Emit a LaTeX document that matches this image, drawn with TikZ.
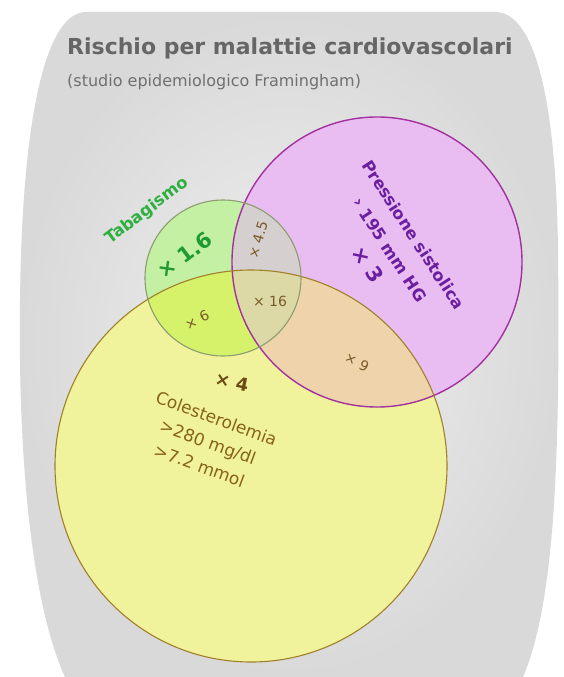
\documentclass[tikz,border=0pt]{standalone}
\usepackage{fontspec}
\setmainfont{DejaVu Sans}
\definecolor{bginner}{HTML}{F0F0F0}
\definecolor{bgouter}{HTML}{D9D9D9}
\definecolor{purF}{HTML}{E9BDF2}
\definecolor{purS}{HTML}{A2329E}
\definecolor{yelF}{HTML}{F0F39C}
\definecolor{yelS}{HTML}{A08028}
\definecolor{grnF}{HTML}{C4F0A4}
\definecolor{grnS}{HTML}{8C9C70}
\definecolor{GYF}{HTML}{D6F26A}
\definecolor{GPF}{HTML}{D6CFCF}
\definecolor{GPYF}{HTML}{DDD9A6}
\definecolor{PYF}{HTML}{EFD3AA}
\definecolor{titlegray}{HTML}{666666}
\definecolor{subgray}{HTML}{707070}
\definecolor{tabgreen}{HTML}{2DB040}
\definecolor{numgreen}{HTML}{1E9A2E}
\definecolor{brown}{HTML}{7A5A28}
\definecolor{darkbrown}{HTML}{6B4A14}
\definecolor{coltext}{HTML}{86621A}
\definecolor{prestext}{HTML}{6A1FA0}
\tikzset{
  fs/.style={font=\fontsize{#1}{#1}\selectfont},
  lbl/.style={inner sep=0pt, text=brown, font=\fontsize{14}{16}\selectfont},
}
\begin{document}
\begin{tikzpicture}[x=1pt,y=-1pt]
\useasboundingbox (0,0) rectangle (563,677);
\fill[white] (0,0) rectangle (563,677);
% background barrel
\shade[inner color=bginner, outer color=bgouter]
  (85,12) -- (495,12) .. controls (535,12) and (556,100) .. (558,250)
  .. controls (560,450) and (556,600) .. (523,677) -- (65,677)
  .. controls (30,600) and (18,450) .. (20,300)
  .. controls (22,120) and (45,14) .. (85,12) -- cycle;
% circle centres
\coordinate (P) at (377,262);
\coordinate (Y) at (251,466);
\coordinate (G) at (223,278);
% fills
\fill[purF] (P) circle[radius=145pt];
\fill[yelF] (Y) circle[radius=196pt];
\fill[grnF] (G) circle[radius=78pt];
\begin{scope}
  \clip (Y) circle[radius=196pt];
  \fill[PYF] (P) circle[radius=145pt];
  \fill[GYF] (G) circle[radius=78pt];
\end{scope}
\begin{scope}
  \clip (P) circle[radius=145pt];
  \fill[GPF] (G) circle[radius=78pt];
  \clip (Y) circle[radius=196pt];
  \fill[GPYF] (G) circle[radius=78pt];
\end{scope}
% outlines
\draw[purS, line width=1.4pt] (P) circle[radius=145pt];
\draw[yelS, line width=1.1pt] (Y) circle[radius=196pt];
\draw[grnS, line width=1.1pt] (G) circle[radius=78pt];
% titles
\node[anchor=base west, inner sep=0pt, text=titlegray, font=\bfseries\fontsize{22}{24}\selectfont] (title) at (67,55) {Rischio per malattie cardiovascolari};
\node[anchor=base west, inner sep=0pt, text=subgray, fs=16] (sub) at (67,86) {(studio epidemiologico Framingham)};
% labels
\node[inner sep=0pt, text=tabgreen, font=\bfseries\fontsize{16.5}{18}\selectfont, rotate=37] (tab) at (147,211) {Tabagismo};
\node[inner sep=0pt, text=numgreen, font=\bfseries\fontsize{21}{23}\selectfont, rotate=37] (t16) at (185,255) {× 1.6};
\node[lbl, rotate=74] (t45) at (258,240) {× 4.5};
\node[lbl] (t16b) at (270,301) {× 16};
\node[lbl, rotate=27] (t6) at (197,320) {× 6};
\node[lbl, rotate=-27] (t9) at (357,362) {× 9};
\node[inner sep=0pt, text=darkbrown, font=\bfseries\fontsize{18}{20}\selectfont, rotate=-12] (t4) at (232,382) {× 4};
\node[inner sep=0pt, text=coltext, align=center, font=\fontsize{17}{25}\selectfont, rotate=-20] (col) at (208,442) {Colesterolemia\\>280 mg/dl\\>7.2 mmol};
\node[inner sep=0pt, text=prestext, align=center, font=\bfseries\fontsize{16.5}{28}\selectfont, rotate=-57] (pres) at (390,250) {Pressione sistolica\\› 195 mm HG\\{\fontsize{21}{23}\selectfont × 3}};
\end{tikzpicture}
\end{document}
